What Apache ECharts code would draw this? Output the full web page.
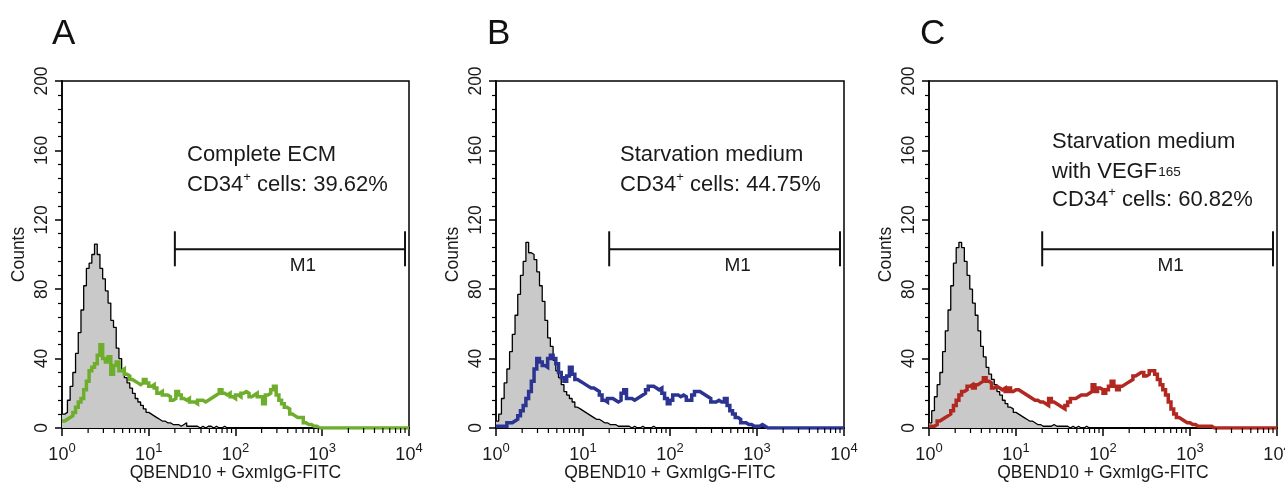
<!DOCTYPE html>
<html><head><meta charset="utf-8">
<script src="https://cdn.jsdelivr.net/npm/echarts@6/dist/echarts.min.js"></script>
<style>html,body{margin:0;padding:0;background:#fff}#c{width:1285px;height:482px}</style>
</head><body><div id="c"></div>
<script>
// ---- data (counts per channel; 128 channels spread evenly over 4 log decades) ----
const CHANNELS = 128;
const DECADES = 4;
const panelLetters = ['A', 'B', 'C'];
const yTicks = [0, 40, 80, 120, 160, 200];
const xAxisTitle = 'QBEND10 + GxmIgG-FITC';
const yAxisTitle = 'Counts';
const stainColors = ['#6fae2c', '#2b3591', '#b0281f'];

const isotypeA = [8,9,16,24,32,43,55,68,82,92, 95,100,106,100,92,86,79,72,62,58,
  46,40,33,29,26,23,20,17,15,13, 11,9,8,7,6,5,4,4,3,3, 2,2,2,1,2,3,1,1,1,1,
  0,1,0,1,1,0,1,0,0,1, 0,0,0,0,
  0,0,0,0,0,0,0,0,0,0, 0,0,0,0,0,0,0,0,0,0, 0,0,0,0,0,0,0,0,0,0, 0,0,0,0,0,0,0,0,0,0,
  0,0,0,0,0,0,0,0,0,0, 0,0,0,0,0,0,0,0,0,0, 0,0,0,0];
const stainA = [4,5,6,7,9,12,15,17,22,27, 33,35,37,42,48,40,38,41,31,36,
  38,33,34,31,30,28,27,26,25,26, 28,26,24,25,23,20,21,19,19,18,
  16,17,21,19,17,16,17,15,15,14, 16,16,15,16,17,18,19,20,22,20,
  19,20,18,17,19,18,20,21,20,18, 19,20,18,18,14,19,20,22,24,19,
  16,14,12,11,8,7,6,6,6,3, 2,2,1,1,
  0,0,0,0,0,0,0,0,0,0, 0,0,0,0,0,0,0,0,0,0, 0,0,0,0,0,0,0,0,0,0, 0,0,0,0];
const isotypeB = [4,8,17,26,34,44,54,65,77,88, 96,107,101,100,97,90,82,73,62,52,
  47,39,33,29,25,21,19,17,15,12, 11,10,9,8,7,6,5,5,4,3, 3,2,2,2,1,1,1,1,1,0,
  1,0,0,1,0,0,0,1,0,0, 0,0,0,0,
  0,0,0,0,0,0,0,0,0,0, 0,0,0,0,0,0,0,0,0,0, 0,0,0,0,0,0,0,0,0,0, 0,0,0,0,0,0,0,0,0,0,
  0,0,0,0,0,0,0,0,0,0, 0,0,0,0,0,0,0,0,0,0, 0,0,0,0];
const stainB = [1,1,1,1,3,3,4,5,7,10, 13,17,21,27,34,40,38,36,35,40,
  42,40,37,32,29,27,30,35,31,28, 27,26,25,24,23,23,22,21,19,16,
  15,17,17,16,15,16,20,22,17,17, 16,17,18,19,20,22,24,24,23,22,
  23,20,17,14,16,19,19,18,19,18, 16,16,19,21,21,20,19,18,17,15,
  15,16,15,15,17,13,10,8,6,5, 3,3,2,2,1,1,1,2,1,0,
  0,0,0,0,0,0,0,0,0,0, 0,0,0,0,0,0,0,0,0,0, 0,0,0,0,0,0,0,0];
const isotypeC = [3,10,18,25,32,44,56,68,82,95, 104,107,104,96,88,80,72,65,56,47,
  41,35,31,28,25,21,19,16,14,12, 11,9,8,7,6,5,4,4,3,2, 2,1,1,1,1,2,1,1,1,1,
  1,0,1,0,1,0,0,1,0,0, 0,0,0,0,
  0,0,0,0,0,0,0,0,0,0, 0,0,0,0,0,0,0,0,0,0, 0,0,0,0,0,0,0,0,0,0, 0,0,0,0,0,0,0,0,0,0,
  0,0,0,0,0,0,0,0,0,0, 0,0,0,0,0,0,0,0,0,0, 0,0,0,0];
const stainC = [1,1,2,4,5,6,7,8,10,13, 16,19,21,22,24,25,23,25,26,27,
  29,27,26,23,24,23,22,23,21,23, 21,22,22,21,20,19,18,17,16,16,
  15,15,14,13,17,15,14,13,12,11, 13,15,17,17,18,19,19,19,20,21,
  25,21,23,22,20,22,24,27,24,22, 24,25,26,27,28,30,31,32,32,30,
  31,33,33,31,28,25,22,19,15,11, 8,6,5,4,3,3,2,2,1,1,
  1,1,1,1,0,0,0,0,0,0, 0,0,0,0,0,0,0,0,0,0, 0,0,0,0,0,0,0,0];

const isotypes = [isotypeA, isotypeB, isotypeC];
const stains = [stainA, stainB, stainC];
const m1Gate = [20, 9000];   // marker M1 range (fluorescence)
const m1Level = 103;         // counts level of marker bar
const annotationLines = [
  ['Complete ECM', '{n|CD34}{s|+}{n| cells: 39.62%}'],
  ['Starvation medium', '{n|CD34}{s|+}{n| cells: 44.75%}'],
  ['Starvation medium', '{n|with VEGF}{b|165}', '{n|CD34}{s|+}{n| cells: 60.82%}']
];

// ---- layout ----
const FONT = '"Liberation Sans", Arial, Helvetica, sans-serif';
const grids = [
  {left: 62, top: 81, width: 347, height: 347},
  {left: 496, top: 81, width: 348, height: 347},
  {left: 929, top: 81, width: 348, height: 347}
];
const letterPos = [{left: 47, top: 12}, {left: 482, top: 12}, {left: 915, top: 12}];
const annotPos = [{x: 187, y: 155}, {x: 620, y: 155}, {x: 1052, y: 142}];

function channelEdge(i) { return Math.pow(10, i * DECADES / CHANNELS); }
function toSteps(counts) {
  const pts = counts.map((c, i) => [channelEdge(i), c]);
  pts.push([channelEdge(CHANNELS), counts[counts.length - 1]]);
  return pts;
}
const minorTickValues = [];
for (let e = 0; e < DECADES; e++) for (let d = 2; d <= 9; d++) minorTickValues.push(d * Math.pow(10, e));

const chart = echarts.init(document.getElementById('c'), null, {renderer: 'canvas'});
const xAxes = [], yAxes = [], series = [], titles = [], graphics = [];

grids.forEach((g, k) => {
  xAxes.push({
    type: 'log', logBase: 10, min: 1, max: Math.pow(10, DECADES), gridIndex: k,
    name: xAxisTitle, nameLocation: 'middle', nameGap: 36, nameMoveOverlap: false,
    nameTextStyle: {fontSize: 17.5, color: '#1a1a1a', fontFamily: FONT},
    axisLine: {lineStyle: {color: '#000', width: 1.8}},
    axisTick: {show: true, length: 8, lineStyle: {color: '#000', width: 1.5}},
    splitLine: {show: false},
    axisLabel: {
      margin: 14, color: '#1a1a1a', fontFamily: FONT,
      formatter: v => '{b|10}{s|' + Math.round(Math.log10(v)) + '}',
      rich: {
        b: {fontSize: 18, fontFamily: FONT, color: '#1a1a1a', verticalAlign: 'bottom', lineHeight: 22},
        s: {fontSize: 13, fontFamily: FONT, color: '#1a1a1a', verticalAlign: 'top', lineHeight: 12}
      }
    }
  });
  yAxes.push({
    type: 'value', min: yTicks[0], max: yTicks[yTicks.length - 1], interval: yTicks[1] - yTicks[0], gridIndex: k,
    name: yAxisTitle, nameLocation: 'middle', nameGap: 34, nameMoveOverlap: false,
    nameTextStyle: {fontSize: 17.5, color: '#1a1a1a', fontFamily: FONT},
    axisLine: {show: true, lineStyle: {color: '#000', width: 1.5}},
    axisTick: {show: true, length: 7, lineStyle: {color: '#000', width: 1.5}},
    minorTick: {show: true, splitNumber: 5, length: 4, lineStyle: {color: '#000', width: 1.2}},
    splitLine: {show: false},
    axisLabel: {rotate: 90, margin: 11, fontSize: 17.5, color: '#1a1a1a', fontFamily: FONT}
  });
  titles.push({text: panelLetters[k], left: letterPos[k].left, top: letterPos[k].top,
    textStyle: {fontSize: 35, fontWeight: 'normal', color: '#111', fontFamily: FONT}});

  series.push({
    type: 'line', xAxisIndex: k, yAxisIndex: k, step: 'end', symbol: 'none', z: 2,
    data: toSteps(isotypes[k]),
    lineStyle: {color: '#000', width: 1.3},
    areaStyle: {color: '#c9c9c9', opacity: 1}
  });
  series.push({
    type: 'line', xAxisIndex: k, yAxisIndex: k, step: 'end', symbol: 'none', z: 3,
    data: toSteps(stains[k]),
    lineStyle: {color: stainColors[k], width: 3.5, join: 'miter', cap: 'butt'}
  });
  series.push({
    type: 'custom', xAxisIndex: k, yAxisIndex: k, z: 4, clip: false, silent: true,
    data: [[m1Gate[0], m1Gate[1], m1Level]],
    encode: {x: [0, 1], y: 2},
    renderItem: (params, api) => {
      const a = api.coord([api.value(0), api.value(2)]);
      const b = api.coord([api.value(1), api.value(2)]);
      const st = {stroke: '#111', lineWidth: 2};
      return {type: 'group', children: [
        {type: 'line', shape: {x1: a[0], y1: a[1], x2: b[0], y2: b[1]}, style: st},
        {type: 'line', shape: {x1: a[0], y1: a[1] - 18, x2: a[0], y2: a[1] + 17}, style: st},
        {type: 'line', shape: {x1: b[0], y1: b[1] - 18, x2: b[0], y2: b[1] + 17}, style: st},
        {type: 'text', x: (a[0] + b[0]) / 2 + 13, y: a[1] + 16,
          style: {text: 'M1', fontSize: 19, fontFamily: FONT, fill: '#1a1a1a', align: 'center', verticalAlign: 'middle'}}
      ]};
    }
  });
  series.push({
    type: 'custom', xAxisIndex: k, yAxisIndex: k, z: 5, clip: false, silent: true,
    data: minorTickValues.map(v => [v, 0]),
    renderItem: (params, api) => {
      const p = api.coord([api.value(0), api.value(1)]);
      return {type: 'line', shape: {x1: p[0], y1: p[1], x2: p[0], y2: p[1] + 5},
        style: {stroke: '#000', lineWidth: 1.2}};
    }
  });

  const rich = {
    n: {fontSize: 22, fontFamily: FONT, fill: '#1a1a1a', color: '#1a1a1a', verticalAlign: 'bottom', lineHeight: 25},
    s: {fontSize: 13, fontFamily: FONT, fill: '#1a1a1a', color: '#1a1a1a', verticalAlign: 'top', lineHeight: 13},
    b: {fontSize: 13.5, fontFamily: FONT, fill: '#1a1a1a', color: '#1a1a1a', verticalAlign: 'bottom', lineHeight: 14, padding: [0, 0, 3, 1]}
  };
  annotationLines[k].forEach((t, j) => {
    graphics.push({type: 'text', x: annotPos[k].x, y: annotPos[k].y + j * 28,
      style: {text: t, fontSize: 22, fontFamily: FONT, fill: '#1a1a1a', verticalAlign: 'middle', align: 'left', rich: rich}});
  });
});

chart.setOption({
  animation: false,
  backgroundColor: '#fff',
  title: titles,
  grid: grids.map(g => Object.assign({show: true, borderColor: '#000', borderWidth: 1.5,
    backgroundColor: 'transparent', containLabel: false, outerBoundsMode: 'none'}, g)),
  xAxis: xAxes,
  yAxis: yAxes,
  series: series,
  graphic: graphics
});
</script></body></html>
